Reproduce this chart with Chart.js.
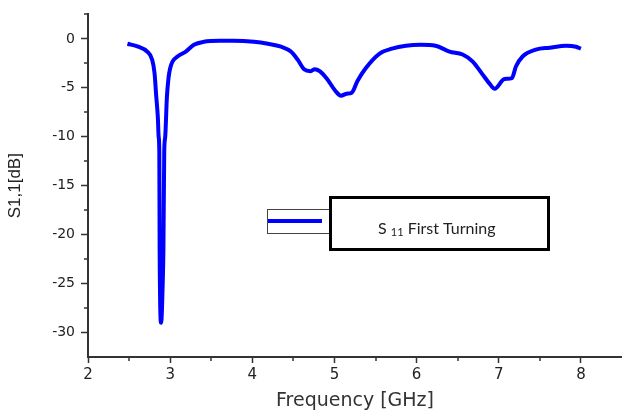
<!DOCTYPE html>
<html>
<head>
<meta charset="utf-8">
<script src="https://cdn.jsdelivr.net/npm/chart.js@4/dist/chart.umd.min.js"></script>
<style>
  html, body { margin: 0; padding: 0; background: #ffffff; }
  #wrap { width: 622px; height: 415px; position: relative; }
</style>
</head>
<body>
<div id="wrap"><canvas id="c"></canvas></div>
<script>
// ---- data ----
const freqGHz = [2.48, 2.61, 2.72, 2.78, 2.81, 2.83, 2.85, 2.86, 2.868, 2.872, 2.89, 2.91, 2.918, 2.928, 2.94, 2.96,
  2.98, 3.00, 3.03, 3.09, 3.19, 3.29, 3.41, 3.60, 3.77, 4.02, 4.19, 4.35, 4.47, 4.55, 4.63, 4.71, 4.76, 4.82,
  4.91, 5.01, 5.08, 5.15, 5.21, 5.28, 5.38, 5.55, 5.70, 5.87, 6.05, 6.23, 6.40, 6.56, 6.68, 6.80, 6.89, 6.95,
  7.07, 7.16, 7.21, 7.29, 7.45, 7.62, 7.82, 7.94, 8.00];
const s11dB = [-0.5, -0.8, -1.3, -2.1, -3.5, -5.8, -8.0, -10.0, -11.5, -21.5, -29.0, -24.8, -21.5, -11.5, -10.0, -6.0,
  -4.0, -3.0, -2.3, -1.8, -1.3, -0.6, -0.3, -0.2, -0.2, -0.3, -0.5, -0.8, -1.3, -2.1, -3.1, -3.3, -3.1, -3.3,
  -4.1, -5.3, -5.8, -5.6, -5.5, -4.3, -3.0, -1.5, -1.0, -0.7, -0.6, -0.7, -1.3, -1.6, -2.3, -3.6, -4.6, -5.1,
  -4.1, -4.0, -2.8, -1.8, -1.1, -0.9, -0.7, -0.8, -1.0];
const xTickValues = [2, 3, 4, 5, 6, 7, 8];
const yTickValues = [0, -5, -10, -15, -20, -25, -30];
const xMinorValues = [2.5, 3.5, 4.5, 5.5, 6.5, 7.5];
const yMinorValues = [2.5, -2.5, -7.5, -12.5, -17.5, -22.5, -27.5];
const seriesLabel = 'S 11 First Turning';

const points = freqGHz.map((f, i) => ({ x: f, y: s11dB[i] }));
const axisColor = '#333333';

const minorTicks = {
  id: 'minorTicks',
  afterDraw(chart) {
    const ctx = chart.ctx;
    const xs = chart.scales.x, ys = chart.scales.y;
    ctx.save();
    ctx.strokeStyle = axisColor;
    ctx.lineWidth = 1.5;
    ctx.beginPath();
    xMinorValues.forEach(v => {
      const px = Math.round(xs.getPixelForValue(v));
      ctx.moveTo(px, ys.bottom); ctx.lineTo(px, ys.bottom + 4);
    });
    yMinorValues.forEach(v => {
      const py = Math.round(ys.getPixelForValue(v));
      ctx.moveTo(xs.left, py); ctx.lineTo(xs.left - 4, py);
    });
    ctx.stroke();
    ctx.restore();
  }
};

const legendBox = {
  id: 'legendBox',
  afterDraw(chart) {
    const ctx = chart.ctx;
    ctx.save();
    // small sample box
    ctx.strokeStyle = '#444';
    ctx.lineWidth = 1;
    ctx.strokeRect(267.5, 209.5, 62, 24);
    ctx.strokeStyle = '#0000ff';
    ctx.lineWidth = 4;
    ctx.beginPath();
    ctx.moveTo(268, 221); ctx.lineTo(322, 221);
    ctx.stroke();
    // big label box
    ctx.fillStyle = '#ffffff';
    ctx.fillRect(330, 198, 219, 51);
    ctx.strokeStyle = '#000000';
    ctx.lineWidth = 3;
    ctx.strokeRect(330.5, 197.5, 218, 52);
    // label text with subscript
    ctx.fillStyle = '#222222';
    ctx.textBaseline = 'alphabetic';
    ctx.font = '16px Lato';
    let x = 378;
    const base = 234;
    ctx.fillText('S', x, base);
    x += ctx.measureText('S ').width;
    ctx.font = '11px Lato';
    ctx.fillText('11', x, base + 2);
    x += ctx.measureText('11').width;
    ctx.font = '16px Lato';
    ctx.fillText(' First Turning', x, base);
    ctx.restore();
  }
};

new Chart(document.getElementById('c'), {
  type: 'line',
  data: {
    datasets: [{
      label: seriesLabel,
      data: points,
      borderColor: '#0000ff',
      borderWidth: 4,
      pointRadius: 0,
      cubicInterpolationMode: 'monotone',
      fill: false
    }]
  },
  options: {
    responsive: true,
    maintainAspectRatio: false,
    animation: false,
    layout: { padding: { top: 7, right: 0, left: 0, bottom: 0 } },
    plugins: { legend: { display: false }, tooltip: { enabled: false } },
    scales: {
      x: {
        type: 'linear',
        min: 2, max: 8.5,
        afterBuildTicks: s => { s.ticks = xTickValues.map(v => ({ value: v })); },
        afterFit: s => { s.height = 58; },
        grid: { drawOnChartArea: false, drawTicks: true, tickLength: 6, tickColor: axisColor, tickWidth: 1.5 },
        border: { display: true, color: axisColor, width: 2 },
        ticks: { font: { family: 'DejaVu Sans', size: 15 }, color: '#222', padding: 3, maxRotation: 0, autoSkip: false },
        title: { display: true, text: 'Frequency [GHz]', color: axisColor,
          font: { family: 'DejaVu Sans', size: 19 }, padding: { top: 4, bottom: 3 } }
      },
      y: {
        type: 'linear',
        min: -32.5, max: 2.5,
        afterBuildTicks: s => { s.ticks = yTickValues.map(v => ({ value: v })); },
        afterFit: s => { s.width = 88; },
        grid: { drawOnChartArea: false, drawTicks: true, tickLength: 7, tickColor: axisColor, tickWidth: 1.5 },
        border: { display: true, color: axisColor, width: 2 },
        ticks: { font: { family: 'DejaVu Sans', size: 14 }, color: '#222', padding: 6, autoSkip: false },
        title: { display: true, text: 'S1,1[dB]', color: '#222',
          font: { family: 'Liberation Sans', size: 17 }, padding: { top: 5, bottom: 0 } }
      }
    }
  },
  plugins: [minorTicks, legendBox]
});
</script>
</body>
</html>
